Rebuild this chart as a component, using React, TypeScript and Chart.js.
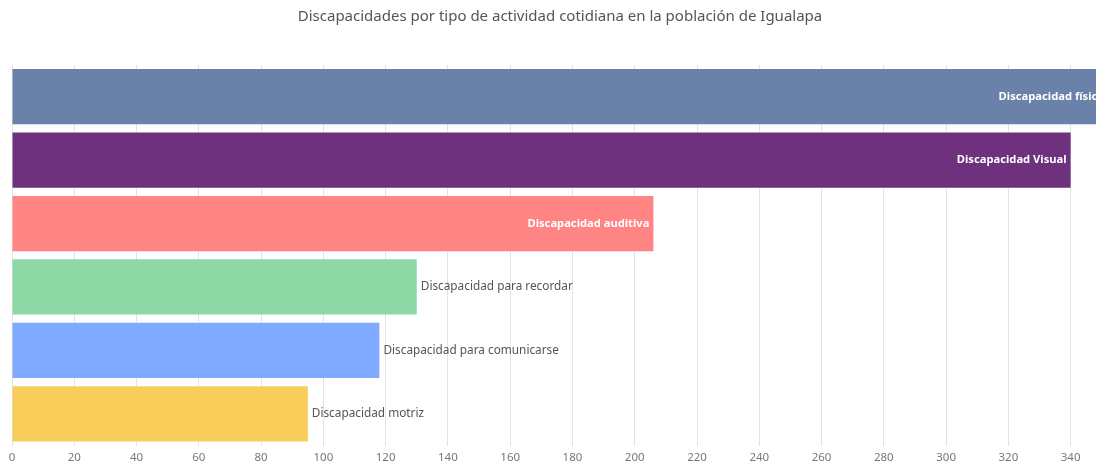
import React, { useEffect, useRef } from "react";
import { Chart, registerables } from "chart.js";

Chart.register(...registerables);

const titleText = "Discapacidades por tipo de actividad cotidiana en la población de Igualapa";
const categories = [
  "Discapacidad física",
  "Discapacidad Visual",
  "Discapacidad auditiva",
  "Discapacidad para recordar",
  "Discapacidad para comunicarse",
  "Discapacidad motriz",
];
const values = [352, 340, 206, 130, 118, 95];
const colors = ["#6a82aa", "#6d317d", "#ff8584", "#8ed8a5", "#80aaff", "#f9cd5a"];
const labelInside = [true, true, true, false, false, false];
const axisMax = 352;
const tickStep = 20;

const FONT = "'Noto Sans', 'Open Sans', sans-serif";

const barLabels = {
  id: "barLabels",
  afterDatasetsDraw(chart: any) {
    const ctx = chart.ctx;
    const meta = chart.getDatasetMeta(0);
    ctx.save();
    ctx.textBaseline = "middle";
    meta.data.forEach((bar: any, i: number) => {
      const text = categories[i];
      if (labelInside[i]) {
        ctx.font = `bold 11.2px ${FONT}`;
        ctx.fillStyle = "#ffffff";
        ctx.textAlign = "right";
        ctx.fillText(text, bar.x - 4, bar.y);
      } else {
        ctx.font = `11.8px ${FONT}`;
        ctx.fillStyle = "#555555";
        ctx.textAlign = "left";
        ctx.fillText(text, bar.x + 4, bar.y);
      }
    });
    ctx.restore();
  },
};

export default function App() {
  const ref = useRef<HTMLCanvasElement | null>(null);
  useEffect(() => {
    if (!ref.current) return;
    const chart = new Chart(ref.current, {
      type: "bar",
      data: {
        labels: categories,
        datasets: [
          {
            data: values,
            backgroundColor: colors,
            borderWidth: 0,
            categoryPercentage: 0.87,
            barPercentage: 1,
          },
        ],
      },
      options: {
        indexAxis: "y",
        animation: false,
        responsive: false,
        layout: { padding: { left: 12, right: 12, top: 0, bottom: 0 } },
        plugins: {
          legend: { display: false },
          tooltip: { enabled: false },
          title: {
            display: true,
            text: titleText,
            color: "#555555",
            font: { family: FONT, size: 15, weight: "normal", lineHeight: 1.2 },
            padding: { top: 8, bottom: 39 },
          },
        },
        scales: {
          x: {
            min: 0,
            max: axisMax,
            ticks: {
              stepSize: tickStep,
              includeBounds: false,
              color: "#777777",
              font: { family: FONT, size: 11.5, lineHeight: 1 },
              padding: 6,
              autoSkip: false,
              maxRotation: 0,
            },
            grid: { color: "#e3e3e3", drawTicks: false },
            border: { display: false },
          },
          y: { display: false },
        },
      },
      plugins: [barLabels],
    });
    return () => chart.destroy();
  }, []);
  return (
    <div style={{ position: "fixed", left: 0, top: 0, width: 1096, height: 464, overflow: "hidden", background: "#fff" }}>
      <canvas ref={ref} width={1120} height={469} style={{ display: "block" }} />
    </div>
  );
}
